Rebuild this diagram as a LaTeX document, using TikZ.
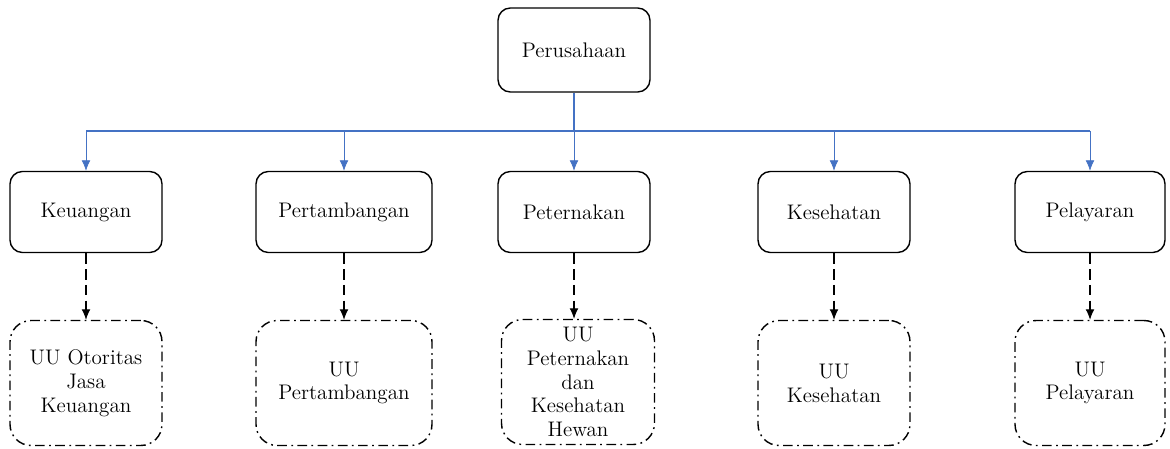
\documentclass[tikz,border=0pt]{standalone}
\usepackage{amsmath}
\usepackage{tikz}
\usetikzlibrary{arrows.meta,positioning}
\definecolor{linkblue}{RGB}{68,114,196}
\tikzset{
  bidang/.style={draw, thick, rounded corners=7pt, minimum height=1.62cm, align=center, font=\fontsize{12}{13.6}\selectfont},
  uubox/.style={draw, thick, rounded corners=12pt, dash pattern=on 5.5pt off 2.5pt on 1pt off 2.5pt, minimum height=2.5cm, align=center, font=\fontsize{12}{13.6}\selectfont},
  cabang/.style={linkblue, -{Latex[length=6pt,width=5pt]}},
  turun/.style={semithick, dash pattern=on 6pt off 3pt, -{Latex[length=6pt,width=5pt]}}
}

\begin{document}
\begin{tikzpicture}[x=0.02cm,y=-0.02cm]
\useasboundingbox (0,0) rectangle (1170,449);
\node[bidang, minimum width=3.04cm, minimum height=1.68cm] (ps) at (574,50) {Perusahaan};
\node[bidang, minimum width=3.04cm] (ku) at (86,212) {Keuangan};
\node[bidang, minimum width=3.52cm] (pt) at (344,212) {Pertambangan};
\node[bidang, minimum width=3.04cm] (pn) at (574,212) {Peternakan};
\node[bidang, minimum width=3.04cm] (ks) at (834,212) {Kesehatan};
\node[bidang, minimum width=3.0cm] (pl) at (1090,212) {Pelayaran};
\node[uubox, minimum width=3.04cm] (uku) at (86,383) {UU Otoritas\\Jasa\\Keuangan};
\node[uubox, minimum width=3.52cm] (upt) at (344,383) {UU\\Pertambangan};
\node[uubox, minimum width=3.06cm] (upn) at (578,382) {UU\\Peternakan\\dan\\Kesehatan\\Hewan};
\node[uubox, minimum width=3.04cm] (uks) at (834,383) {UU\\Kesehatan};
\node[uubox, minimum width=3.0cm] (upl) at (1090,383) {UU\\Pelayaran};
\coordinate (bar) at (574,131);
% garis biru
\draw[linkblue, line width=1.1pt] (ps.south) -- (bar);
\draw[linkblue, semithick] (ku.north |- bar) -- (pl.north |- bar);
\foreach \n in {ku,pt,pn,ks,pl}
  \draw[cabang] (\n.north |- bar) -- (\n.north);
% garis putus
\foreach \a/\b in {ku/uku,pt/upt,pn/upn,ks/uks,pl/upl}
  \draw[turun] (\a.south) -- (\a.south |- \b.north);
\end{tikzpicture}
\end{document}
